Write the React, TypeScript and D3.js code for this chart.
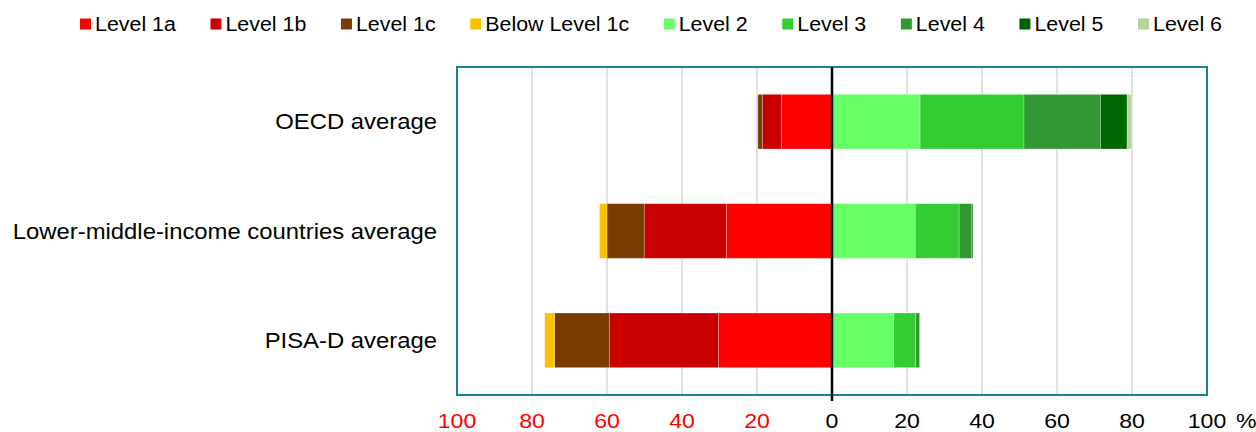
import { useEffect, useRef } from "react";
import * as d3 from "d3";

const categories = ["OECD average", "Lower-middle-income countries average", "PISA-D average"];

// below-baseline levels, listed from zero outward (drawn to the left)
const lowLevels = ["Level 1a", "Level 1b", "Level 1c", "Below Level 1c"];
// baseline and above, from zero outward (drawn to the right)
const highLevels = ["Level 2", "Level 3", "Level 4", "Level 5", "Level 6"];

const legendOrder = ["Level 1a", "Level 1b", "Level 1c", "Below Level 1c", "Level 2", "Level 3", "Level 4", "Level 5", "Level 6"];

const levelColors: Record<string, string> = {
  "Level 1a": "#FF0000",
  "Level 1b": "#C80000",
  "Level 1c": "#7A3B00",
  "Below Level 1c": "#FFC000",
  "Level 2": "#66FF66",
  "Level 3": "#33CC33",
  "Level 4": "#339933",
  "Level 5": "#006600",
  "Level 6": "#B9D29A",
};

// percentages per category (same order as categories)
const level1a = [13.5, 28.2, 30.3];
const level1b = [5.1, 21.9, 29.1];
const level1c = [1.2, 9.9, 14.6];
const belowLevel1c = [0.1, 2.0, 2.6];
const level2 = [23.5, 22.2, 16.5];
const level3 = [27.7, 11.7, 5.8];
const level4 = [20.4, 3.3, 1.0];
const level5 = [7.1, 0.35, 0.1];
const level6 = [1.2, 0, 0];

const tickValues = [-100, -80, -60, -40, -20, 0, 20, 40, 60, 80, 100];

const seriesValues: Record<string, number[]> = {
  "Level 1a": level1a,
  "Level 1b": level1b,
  "Level 1c": level1c,
  "Below Level 1c": belowLevel1c,
  "Level 2": level2,
  "Level 3": level3,
  "Level 4": level4,
  "Level 5": level5,
  "Level 6": level6,
};

interface Seg {
  cat: string;
  level: string;
  x0: number;
  x1: number;
}

const FONT = "'Liberation Sans', Arial, sans-serif";
// the source text is a little wider than Arial at the same height
const STRETCH = 1.085;

export default function App() {
  const svgRef = useRef<SVGSVGElement | null>(null);

  useEffect(() => {
    document.body.style.margin = "0";
    const svg = d3.select(svgRef.current);
    svg.selectAll("*").remove();

    const plot = { left: 457, right: 1207, top: 67, bottom: 395 };

    const x = d3.scaleLinear().domain([-100, 100]).range([plot.left, plot.right]);
    const y = d3
      .scaleBand<string>()
      .domain(categories)
      .range([plot.top, plot.bottom])
      .paddingInner(0.5)
      .paddingOuter(0.25);

    // stacked segments
    const segs: Seg[] = [];
    categories.forEach((cat, i) => {
      let acc = 0;
      lowLevels.forEach((lv) => {
        const v = seriesValues[lv][i];
        segs.push({ cat, level: lv, x0: -acc - v, x1: -acc });
        acc += v;
      });
      acc = 0;
      highLevels.forEach((lv) => {
        const v = seriesValues[lv][i];
        segs.push({ cat, level: lv, x0: acc, x1: acc + v });
        acc += v;
      });
    });

    // gridlines
    svg
      .append("g")
      .selectAll("line")
      .data(tickValues.filter((t) => t !== 0 && Math.abs(t) !== 100))
      .join("line")
      .attr("x1", (d) => x(d))
      .attr("x2", (d) => x(d))
      .attr("y1", plot.top)
      .attr("y2", plot.bottom)
      .attr("stroke", "#D9D9D9")
      .attr("stroke-width", 1.5);

    svg
      .append("g")
      .selectAll("rect")
      .data(segs.filter((s) => s.x1 - s.x0 > 0))
      .join("rect")
      .attr("x", (d) => x(d.x0))
      .attr("width", (d) => x(d.x1) - x(d.x0))
      .attr("y", (d) => y(d.cat)!)
      .attr("height", y.bandwidth())
      .attr("fill", (d) => levelColors[d.level])
      .attr("stroke", "rgba(255,255,255,0.35)")
      .attr("stroke-width", 0.75);

    // frame
    svg
      .append("rect")
      .attr("x", plot.left)
      .attr("y", plot.top)
      .attr("width", plot.right - plot.left)
      .attr("height", plot.bottom - plot.top)
      .attr("fill", "none")
      .attr("stroke", "#1A7FA6")
      .attr("stroke-width", 2);

    // zero line
    svg
      .append("line")
      .attr("x1", x(0))
      .attr("x2", x(0))
      .attr("y1", plot.top)
      .attr("y2", plot.bottom + 6)
      .attr("stroke", "#000")
      .attr("stroke-width", 2.5);

    // category labels
    svg
      .append("g")
      .selectAll("text")
      .data(categories)
      .join("text")
      .attr("transform", (d) => `translate(437,${y(d)! + y.bandwidth() / 2}) scale(${STRETCH},1)`)
      .attr("dy", "0.35em")
      .attr("text-anchor", "end")
      .style("font-family", FONT)
      .style("font-size", "22px")
      .style("fill", "#000")
      .text((d) => d);

    // x tick labels
    svg
      .append("g")
      .selectAll("text")
      .data(tickValues)
      .join("text")
      .attr("transform", (d) => `translate(${x(d)},421) scale(1.1,1)`)
      .attr("dy", "0.35em")
      .attr("text-anchor", "middle")
      .style("font-family", FONT)
      .style("font-size", "21px")
      .style("fill", (d) => (d < 0 ? "#FF0000" : "#000"))
      .text((d) => String(Math.abs(d)));

    svg
      .append("text")
      .attr("transform", `translate(${x(100) + 29},421) scale(1.1,1)`)
      .attr("dy", "0.35em")
      .style("font-family", FONT)
      .style("font-size", "21px")
      .text("%");

    // legend: items spread so the row runs from x=80 to x=1222
    const legendLeft = 80;
    const legendRight = 1222;
    const legend = svg.append("g").attr("transform", `translate(${legendLeft},24)`);
    const items = legendOrder.map((lv) => {
      const item = legend.append("g");
      item
        .append("rect")
        .attr("x", 0)
        .attr("y", -5.5)
        .attr("width", 11)
        .attr("height", 11)
        .attr("fill", levelColors[lv]);
      const t = item
        .append("text")
        .attr("transform", `translate(15,0) scale(1.07,1)`)
        .attr("dy", "0.35em")
        .style("font-family", FONT)
        .style("font-size", "20px")
        .text(lv);
      const w = 15 + (t.node() as SVGTextElement).getComputedTextLength() * 1.07;
      return { item, w };
    });
    const total = d3.sum(items, (d) => d.w);
    const gap = (legendRight - legendLeft - total) / (items.length - 1);
    let lx = 0;
    items.forEach(({ item, w }) => {
      item.attr("transform", `translate(${lx},0)`);
      lx += w + gap;
    });
  }, []);

  return <svg ref={svgRef} width={1256} height={432} style={{ display: "block" }} />;
}
